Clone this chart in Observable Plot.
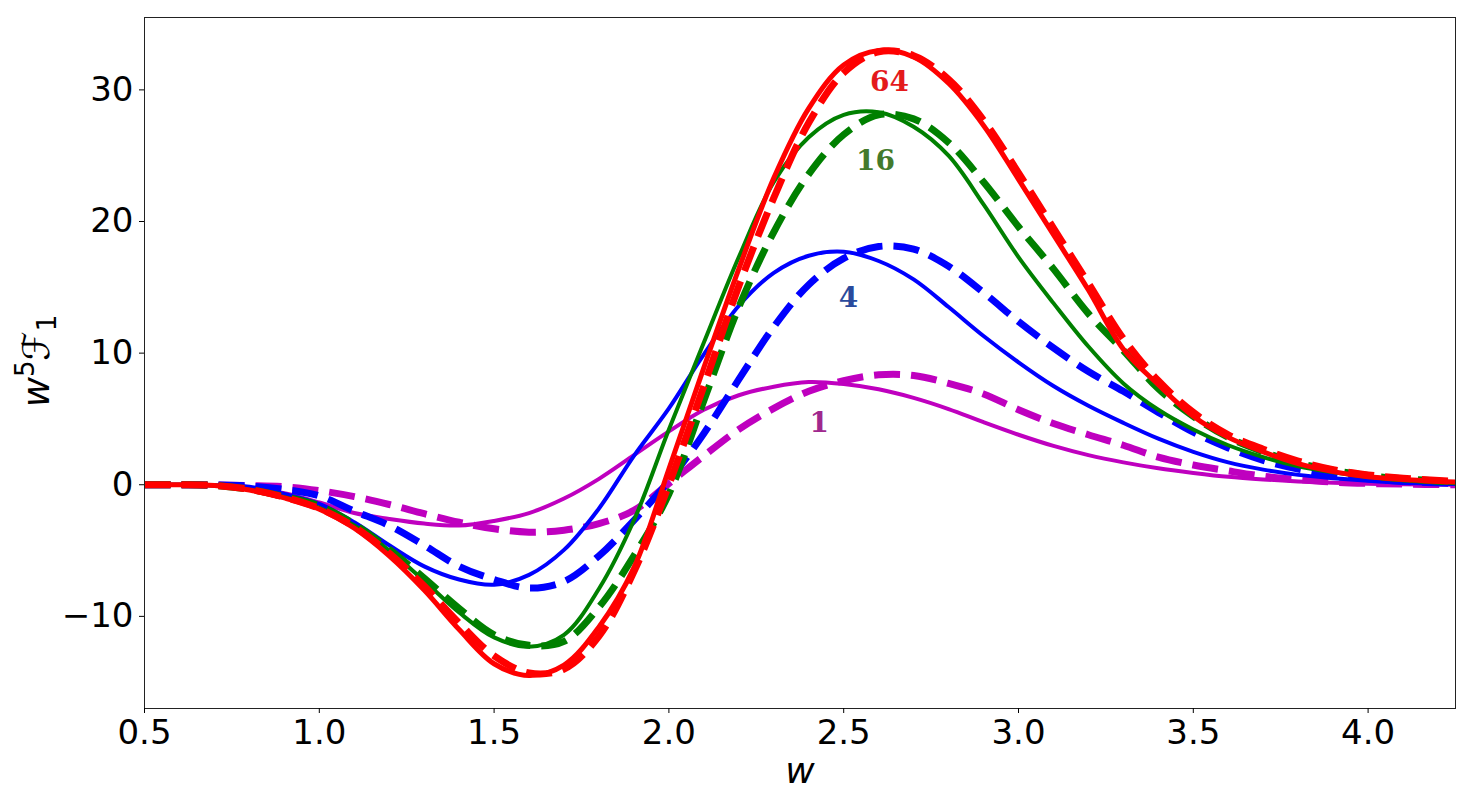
<!DOCTYPE html>
<html><head><meta charset="utf-8">
<script src="https://cdn.jsdelivr.net/npm/d3@7"></script>
<script src="https://cdn.jsdelivr.net/npm/@observablehq/plot@0.6"></script>
<style>
body{margin:0;background:#fff;}
#chart svg{font-family:"DejaVu Sans",sans-serif;overflow:visible;}
</style>
</head><body><div id="chart"></div>
<script>
// x grid (w)
const w = [0.5,0.6,0.7,0.8,0.9,1.0,1.1,1.2,1.3,1.4,1.5,1.6,1.7,1.8,1.9,2.0,2.1,2.2,2.3,2.4,2.5,2.6,2.7,2.8,2.9,3.0,3.1,3.2,3.3,3.4,3.5,3.6,3.7,3.8,3.9,4.0,4.1,4.25];

// N = 1
const solid1  = [0,0,-0.05,-0.2,-0.65,-1.35,-2.15,-2.6,-2.95,-3.1,-2.75,-2.15,-1.05,0.45,2.25,4.05,5.7,6.8,7.45,7.8,7.65,7.25,6.6,5.75,4.75,3.8,2.95,2.25,1.7,1.25,0.9,0.6,0.4,0.25,0.15,0.08,0.04,0.0];
const dashed1 = [0,0,-0.02,-0.06,-0.15,-0.45,-0.9,-1.5,-2.2,-2.85,-3.35,-3.6,-3.45,-2.95,-1.95,0.1,2.2,4.2,5.8,7.1,7.9,8.35,8.3,7.7,6.9,5.7,4.65,3.8,3.0,2.1,1.5,1.05,0.65,0.4,0.2,0.1,0.05,0.0];
// N = 4
const solid4  = [0,0,-0.03,-0.15,-0.7,-1.45,-2.85,-4.6,-6.2,-7.2,-7.6,-6.85,-4.95,-1.8,2.2,5.8,9.9,13.6,16.1,17.4,17.7,17.0,15.6,13.5,11.3,9.3,7.5,6.0,4.7,3.5,2.5,1.7,1.15,0.75,0.5,0.3,0.15,0.05];
const dashed4 = [0,0,-0.02,-0.1,-0.35,-0.85,-2.0,-3.1,-4.6,-6.2,-7.2,-7.85,-7.35,-5.4,-2.7,0.3,3.9,8.0,12.0,15.2,17.2,18.1,17.9,16.6,14.6,12.4,10.4,8.6,7.1,5.5,4.0,2.8,1.85,1.2,0.75,0.45,0.25,0.1];
// N = 16
const solid16  = [0,0,-0.05,-0.38,-0.95,-1.75,-3.1,-5.0,-7.3,-9.7,-11.6,-12.3,-11.4,-7.9,-2.7,4.2,10.8,17.3,23.0,26.4,28.1,28.3,27.2,25.0,21.3,17.3,13.8,10.5,7.7,5.7,4.2,3.0,2.1,1.4,0.95,0.6,0.35,0.12];
const dashed16 = [0,0,-0.05,-0.35,-0.9,-1.6,-3.0,-4.9,-7.1,-9.4,-11.4,-12.2,-11.9,-9.3,-5.4,-0.7,6.4,13.5,19.2,23.6,26.6,28.1,27.8,26.0,23.0,19.6,16.4,13.0,10.2,7.3,5.2,3.6,2.5,1.65,1.1,0.7,0.45,0.2];
// N = 64
const solid64  = [0,0,-0.05,-0.4,-1.0,-1.85,-3.3,-5.4,-8.0,-11.0,-13.6,-14.5,-13.7,-10.8,-6.3,1.2,8.9,16.4,23.3,28.6,31.9,33.0,32.5,30.5,27.3,23.2,19.0,14.8,10.3,7.6,5.2,3.6,2.5,1.6,1.0,0.6,0.4,0.2];
const dashed64 = [0,0,-0.05,-0.35,-0.95,-1.8,-3.2,-5.2,-7.7,-10.5,-13.0,-14.3,-14.0,-11.5,-6.6,0.0,7.5,15.1,21.8,27.5,31.3,32.9,32.6,30.8,27.7,23.7,19.5,15.3,11.1,7.9,5.5,3.8,2.7,1.8,1.15,0.75,0.5,0.25];

// curve labels
const labelText = ["64","16","4","1"];
const labelW    = [2.631, 2.591, 2.514, 2.43];
const labelV    = [30.6, 24.6, 14.2, 4.7];
const labelColor = ["#e41a1c","#437a2c","#2a4a9c","#a0288e"];

// axis ticks
const xTicks = [0.5,1.0,1.5,2.0,2.5,3.0,3.5,4.0];
const yTicks = [-10,0,10,20,30];

const series = [
  {values: solid1,   color: "#bf00bf", dashed: false},
  {values: dashed1,  color: "#bf00bf", dashed: true},
  {values: solid4,   color: "#0000ff", dashed: false},
  {values: dashed4,  color: "#0000ff", dashed: true},
  {values: solid16,  color: "#008000", dashed: false},
  {values: dashed16, color: "#008000", dashed: true},
  {values: solid64,  color: "#ff0000", dashed: false, thick: true},
  {values: dashed64, color: "#ff0000", dashed: true}
];

const lineMarks = series.map(s => Plot.line(
  s.values.map((v, i) => ({w: w[i], v})),
  {
    x: "w", y: "v", curve: "catmull-rom",
    stroke: s.color,
    strokeWidth: s.dashed ? 7 : (s.thick ? 5 : 4),
    strokeDasharray: s.dashed ? "26,11" : null,
    strokeLinecap: "butt"
  }
));

const labels = labelText.map((t, i) => ({t, w: labelW[i], v: labelV[i], c: labelColor[i]}));

const chart = Plot.plot({
  width: 1466,
  height: 792,
  marginLeft: 144,
  marginRight: 11,
  marginTop: 17,
  marginBottom: 84,
  style: {fontSize: "34px", fontFamily: "DejaVu Sans", color: "#000", background: "#fff"},
  x: {domain: [0.5, 4.25], label: null},
  y: {domain: [-17.0, 35.5], label: null},
  marks: [
    ...lineMarks,
    Plot.text(labels, {x: "w", y: "v", text: "t", fill: "c", fontSize: 28, fontWeight: "bold", fontFamily: "DejaVu Serif", textAnchor: "middle"}),
    Plot.frame({stroke: "#222", strokeWidth: 1}),
    Plot.axisX({ticks: xTicks, tickFormat: d3.format(".1f"), tickSize: 5, tickPadding: 6, fontSize: 34, label: null}),
    Plot.axisY({ticks: yTicks, tickSize: 5, tickPadding: 6, fontSize: 34, label: null})
  ]
});

document.getElementById("chart").appendChild(chart);

const svg = d3.select(chart);
// x label
svg.append("text")
  .attr("x", 800).attr("y", 783)
  .attr("text-anchor", "middle")
  .attr("font-family", "DejaVu Sans").attr("font-size", 36).attr("font-style", "italic")
  .attr("fill", "#000")
  .text("w");
// y label
const yl = svg.append("text")
  .attr("transform", "translate(49,361) rotate(-90)")
  .attr("text-anchor", "middle")
  .attr("font-family", "DejaVu Sans").attr("font-size", 37)
  .attr("fill", "#000");
yl.append("tspan").attr("font-style", "italic").text("w");
yl.append("tspan").attr("font-size", 26).attr("dy", -15).text("5");
yl.append("tspan").attr("font-style", "italic").attr("dy", 15).text("\u2131");
yl.append("tspan").attr("font-size", 26).attr("dy", 7).text("1");
</script>
</body></html>
